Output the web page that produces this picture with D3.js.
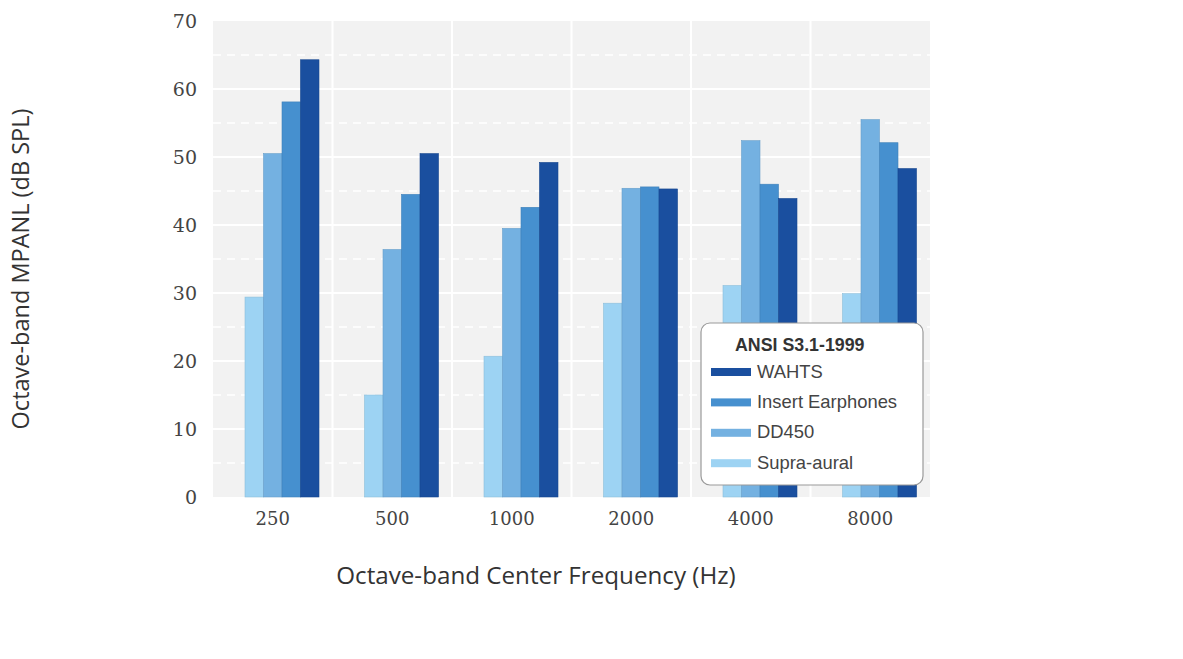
<!DOCTYPE html>
<html><head><meta charset="utf-8">
<script src="https://cdn.jsdelivr.net/npm/d3@7"></script>
<style>body{margin:0;background:#fff}svg{display:block}</style>
</head><body><svg id="c" width="1183" height="659"></svg>
<script>
const categories = ["250","500","1000","2000","4000","8000"];
const slots = ["ANSI S3.1-1999","Supra-aural","DD450","Insert Earphones","WAHTS"];
const supraAural = [29.4,15.0,20.7,28.5,31.1,29.9];
const dd450 = [50.5,36.4,39.5,45.4,52.4,55.5];
const insertEarphones = [58.1,44.5,42.6,45.6,46.0,52.1];
const wahts = [64.3,50.5,49.2,45.3,43.9,48.3];
const yTicks = [0,10,20,30,40,50,60,70];
const legendOrder = ["WAHTS","Insert Earphones","DD450","Supra-aural"];
const colors = {"Supra-aural":"#9dd3f3","DD450":"#74b1e1","Insert Earphones":"#4690cf","WAHTS":"#1a4f9f"};
const series = [
  {name:"Supra-aural", values:supraAural},
  {name:"DD450", values:dd450},
  {name:"Insert Earphones", values:insertEarphones},
  {name:"WAHTS", values:wahts}
];

const svg = d3.select("#c");
const L=213,R=930,T=21,B=497;
const x = d3.scaleBand().domain(categories).range([L,R]).paddingInner(0).paddingOuter(0);
const xi = d3.scaleBand().domain(slots).range([0,x.bandwidth()]).paddingOuter(0.73);
const y = d3.scaleLinear().domain([0,70]).range([B,T]);

svg.append("rect").attr("x",L).attr("y",T).attr("width",R-L).attr("height",B-T).attr("fill","#f2f2f2");
const half = d3.range(5,70,10);
svg.append("g").selectAll("line").data(half).join("line")
  .attr("x1",L).attr("x2",R).attr("y1",d=>y(d)).attr("y2",d=>y(d))
  .attr("stroke","#fff").attr("stroke-width",1.5).attr("stroke-dasharray","8,6");
svg.append("g").selectAll("line").data(yTicks.slice(1,-1)).join("line")
  .attr("x1",L).attr("x2",R).attr("y1",d=>y(d)).attr("y2",d=>y(d))
  .attr("stroke","#fff").attr("stroke-width",2);
svg.append("g").selectAll("line").data(categories.slice(1)).join("line")
  .attr("x1",d=>x(d)).attr("x2",d=>x(d)).attr("y1",T).attr("y2",B)
  .attr("stroke","#fff").attr("stroke-width",2);

series.forEach(s=>{
  svg.append("g").selectAll("rect").data(s.values).join("rect")
    .attr("x",(d,i)=>x(categories[i])+xi(s.name))
    .attr("width",xi.bandwidth())
    .attr("y",d=>y(d)).attr("height",d=>B-y(d))
    .attr("fill",colors[s.name])
    .attr("stroke",d3.color(colors[s.name]).darker(0.3)).attr("stroke-width",0.6);
});

const yAxis = d3.axisLeft(y).tickValues(yTicks).tickSize(0).tickPadding(0);
const gy = svg.append("g").attr("transform",`translate(197,0)`).call(yAxis);
gy.select(".domain").remove();
gy.selectAll("text").attr("font-family","'DejaVu Serif','Liberation Serif',serif").attr("font-size",19).attr("fill","#444");
const xAxis = d3.axisBottom(x).tickSize(0).tickPadding(0);
const gx = svg.append("g").attr("transform",`translate(0,512)`).call(xAxis);
gx.select(".domain").remove();
gx.selectAll("text").attr("font-family","'DejaVu Serif','Liberation Serif',serif").attr("font-size",18).attr("fill","#444");

svg.append("text").attr("transform","translate(29,269) rotate(-90)").attr("text-anchor","middle")
  .attr("font-family","'Open Sans',sans-serif").attr("font-size",23.5).attr("fill","#333")
  .text("Octave-band MPANL (dB SPL)");
svg.append("text").attr("x",536).attr("y",584).attr("text-anchor","middle")
  .attr("font-family","'Open Sans',sans-serif").attr("font-size",24.2).attr("fill","#333")
  .text("Octave-band Center Frequency (Hz)");

const lg = svg.append("g");
lg.append("rect").attr("x",701).attr("y",323).attr("width",222).attr("height",162).attr("rx",9)
  .attr("fill","#fff").attr("stroke","#9a9a9a").attr("stroke-width",1.2);
lg.append("text").attr("x",735).attr("y",351).attr("font-family","'Liberation Sans',Arial,sans-serif")
  .attr("font-weight","bold").attr("font-size",17.8).attr("fill","#333").text(slots[0]);
legendOrder.forEach((n,i)=>{
  const yy = 372 + i*30.4;
  lg.append("rect").attr("x",711).attr("y",yy-4).attr("width",40).attr("height",8).attr("fill",colors[n]);
  lg.append("text").attr("x",757).attr("y",yy+5.5).attr("font-family","'Liberation Sans',Arial,sans-serif")
    .attr("font-size",18.4).attr("fill","#444").text(n);
});
</script></body></html>
